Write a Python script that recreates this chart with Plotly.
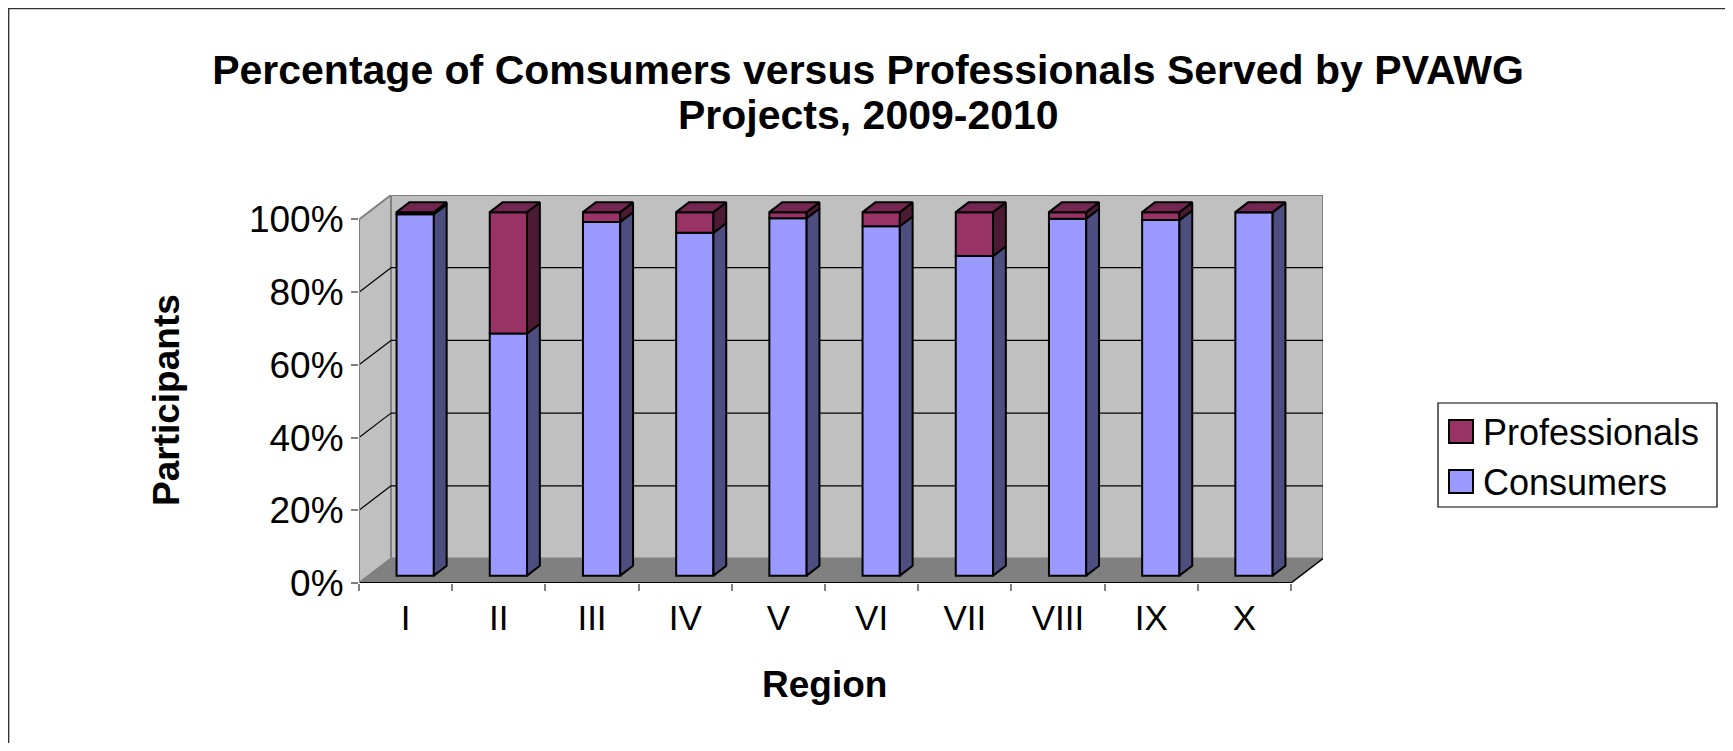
import plotly.graph_objects as go

# ---------------- data ----------------
regions = ["I", "II", "III", "IV", "V", "VI", "VII", "VIII", "IX", "X"]
consumers = [99.4, 66.6, 97.3, 94.3, 98.3, 96.1, 87.9, 98.2, 97.8, 100.0]
professionals = [0.6, 33.4, 2.7, 5.7, 1.7, 3.9, 12.1, 1.8, 2.2, 0.0]
y_tick_vals = [0, 20, 40, 60, 80, 100]
y_tick_text = ["0%", "20%", "40%", "60%", "80%", "100%"]
grid_vals = [20, 40, 60, 80]
legend_names = ["Professionals", "Consumers"]
title_line1 = "<b>Percentage of Comsumers versus Professionals Served by PVAWG</b>"
title_line2 = "<b>Projects, 2009-2010</b>"
x_title = "<b>Region</b>"
y_title = "<b>Participants</b>"

# ---------------- style ----------------
FONT = "Arial, 'Liberation Sans', sans-serif"
C_FRONT, C_SIDE = "#9999FF", "#4D4D80"
P_FRONT, P_SIDE, P_TOP = "#993366", "#4D1A33", "#732650"
WALL, FLOOR, EDGE = "#C0C0C0", "#808080", "#808080"

OFF = 8                        # page body margin
W, H = 1733 - 2 * OFF, 751 - 2 * OFF
L, T, PW, PH = 359 - OFF, 195 - OFF, 964, 388
B = T + PH
n = len(regions)
DX, DY = 0.3435, 6.73          # depth offset of the back wall (axis units)
X0, X1 = -0.5, n - 0.5
FD0, FD1 = 0.3, 0.7            # bar depth (fraction of wall depth)
BW = 0.4                       # bar width (category units)
TITLE_X = 868                  # screen x of title centre

def px(xs_):
    """screen x -> paper x"""
    return (xs_ - OFF - L) / PW

def py(ys_):
    """screen y -> paper y"""
    return (B - (ys_ - OFF)) / PH

base = FD0 * DY
xs = [i + FD0 * DX for i in range(n)]
pro_base = [base + c for c in consumers]
ddx, ddy = (FD1 - FD0) * DX, (FD1 - FD0) * DY

fig = go.Figure()

fig.add_trace(go.Bar(x=xs, y=consumers, base=[base] * n, width=BW,
                     marker=dict(color=C_FRONT, line=dict(color="black", width=2)),
                     name=legend_names[1], showlegend=False))
fig.add_trace(go.Bar(x=xs, y=professionals, base=pro_base, width=BW,
                     marker=dict(color=P_FRONT, line=dict(color="black", width=2)),
                     name=legend_names[0], showlegend=False))

def side_poly(x_list, y0_list, y1_list):
    px_, py_ = [], []
    for xc, y0, y1 in zip(x_list, y0_list, y1_list):
        xr = xc + BW / 2
        px_ += [xr, xr + ddx, xr + ddx, xr, xr, None]
        py_ += [y0, y0 + ddy, y1 + ddy, y1, y0, None]
    return px_, py_

sx, sy = side_poly(xs, [base] * n, pro_base)
fig.add_trace(go.Scatter(x=sx, y=sy, mode="lines", fill="toself", fillcolor=C_SIDE,
                         line=dict(color="black", width=2), hoverinfo="skip", showlegend=False))
tops = [pb + p for pb, p in zip(pro_base, professionals)]
sx, sy = side_poly(xs, pro_base, tops)
fig.add_trace(go.Scatter(x=sx, y=sy, mode="lines", fill="toself", fillcolor=P_SIDE,
                         line=dict(color="black", width=2), hoverinfo="skip", showlegend=False))
tx, ty = [], []
for xc, yt in zip(xs, tops):
    xl, xr = xc - BW / 2, xc + BW / 2
    tx += [xl, xr, xr + ddx, xl + ddx, xl, None]
    ty += [yt, yt, yt + ddy, yt + ddy, yt, None]
fig.add_trace(go.Scatter(x=tx, y=ty, mode="lines", fill="toself", fillcolor=P_TOP,
                         line=dict(color="black", width=2), hoverinfo="skip", showlegend=False))

shapes = []
# back wall
shapes.append(dict(type="rect", xref="x", yref="y", x0=X0 + DX, x1=X1 + DX, y0=DY, y1=100 + DY,
                   fillcolor=WALL, line=dict(color=EDGE, width=2), layer="below"))
# left wall
shapes.append(dict(type="path", xref="x", yref="y",
                   path=f"M{X0},0 L{X0 + DX},{DY} L{X0 + DX},{100 + DY} L{X0},100 Z",
                   fillcolor=WALL, line=dict(color=EDGE, width=2), layer="below"))
# floor
shapes.append(dict(type="path", xref="x", yref="y",
                   path=f"M{X0},0 L{X1},0 L{X1 + DX},{DY} L{X0 + DX},{DY} Z",
                   fillcolor=FLOOR, line=dict(width=0), layer="below"))
# gridlines
for v in grid_vals:
    shapes.append(dict(type="line", xref="x", yref="y", x0=X0 + DX, x1=X1 + DX, y0=v + DY, y1=v + DY,
                       line=dict(color="black", width=1.2), layer="below"))
    shapes.append(dict(type="line", xref="x", yref="y", x0=X0, x1=X0 + DX, y0=v, y1=v + DY,
                       line=dict(color="black", width=1.2), layer="below"))
# front axis edges
shapes.append(dict(type="line", xref="x", yref="y", x0=X0, x1=X1, y0=0, y1=0,
                   line=dict(color="black", width=2), layer="below"))
shapes.append(dict(type="line", xref="x", yref="y", x0=X1, x1=X1 + DX, y0=0, y1=DY,
                   line=dict(color="black", width=1.5), layer="below"))
shapes.append(dict(type="line", xref="x", yref="y", x0=X0, x1=X0, y0=0, y1=100,
                   line=dict(color=EDGE, width=2), layer="below"))

# legend (manual)
shapes.append(dict(type="rect", xref="paper", yref="paper", x0=px(1438), x1=px(1717),
                   y0=py(507), y1=py(403), line=dict(color="black", width=1.2), fillcolor="white"))
shapes.append(dict(type="rect", xref="paper", yref="paper", x0=px(1449), x1=px(1473),
                   y0=py(443), y1=py(420), line=dict(color="black", width=2), fillcolor=P_FRONT))
shapes.append(dict(type="rect", xref="paper", yref="paper", x0=px(1449), x1=px(1473),
                   y0=py(493), y1=py(470), line=dict(color="black", width=2), fillcolor=C_FRONT))
# outer border (top and left)
shapes.append(dict(type="path", xref="paper", yref="paper",
                   path=f"M{px(8.6)},{py(760)} L{px(8.6)},{py(8.6)} L{px(1745)},{py(8.6)}",
                   line=dict(color="#333333", width=1.5)))

annotations = [
    dict(text=title_line2, xref="paper", yref="paper", x=px(TITLE_X), y=py(115),
         xanchor="center", yanchor="middle", showarrow=False, font=dict(size=41, color="black")),
    dict(text=legend_names[0], xref="paper", yref="paper", x=px(1481), y=py(432),
         xanchor="left", yanchor="middle", showarrow=False, font=dict(size=36, color="black")),
    dict(text=legend_names[1], xref="paper", yref="paper", x=px(1481), y=py(482),
         xanchor="left", yanchor="middle", showarrow=False, font=dict(size=36, color="black")),
    dict(text=y_title, xref="paper", yref="paper", x=px(166), y=py(400), textangle=-90,
         xanchor="center", yanchor="middle", showarrow=False, font=dict(size=37, color="black")),
    dict(text=x_title, xref="paper", yref="paper", x=px(824.5), y=py(684),
         xanchor="center", yanchor="middle", showarrow=False, font=dict(size=37, color="black")),
]

fig.update_layout(
    width=W, height=H, autosize=False,
    margin=dict(l=L, r=W - L - PW, t=T, b=H - T - PH, pad=0),
    paper_bgcolor="white", plot_bgcolor="white",
    font=dict(family=FONT, color="black"),
    barmode="overlay",
    showlegend=False,
    title=dict(text=title_line1, xref="container", yref="container", x=(TITLE_X - OFF) / W,
               xanchor="center", y=1 - (70 - OFF) / H, yanchor="middle",
               font=dict(size=41, color="black")),
    shapes=shapes, annotations=annotations,
    xaxis=dict(range=[X0, X1 + DX], tickmode="array", tickvals=list(range(n)), ticktext=regions,
               ticks="outside", ticklen=4, tickcolor="rgba(0,0,0,0)",
               minor=dict(tickmode="array", tickvals=[i - 0.5 for i in range(n + 1)],
                          ticks="outside", ticklen=7, tickcolor=EDGE, tickwidth=1.5),
               showgrid=False, zeroline=False, showline=False,
               tickfont=dict(size=35, color="black"), fixedrange=True),
    yaxis=dict(range=[0, 100 + DY], tickmode="array", tickvals=y_tick_vals, ticktext=y_tick_text,
               ticks="outside", ticklen=7, tickcolor=EDGE, tickwidth=1.5,
               showgrid=False, zeroline=False, showline=False,
               tickfont=dict(size=37, color="black"), fixedrange=True),
)

fig.write_html("out.html")
